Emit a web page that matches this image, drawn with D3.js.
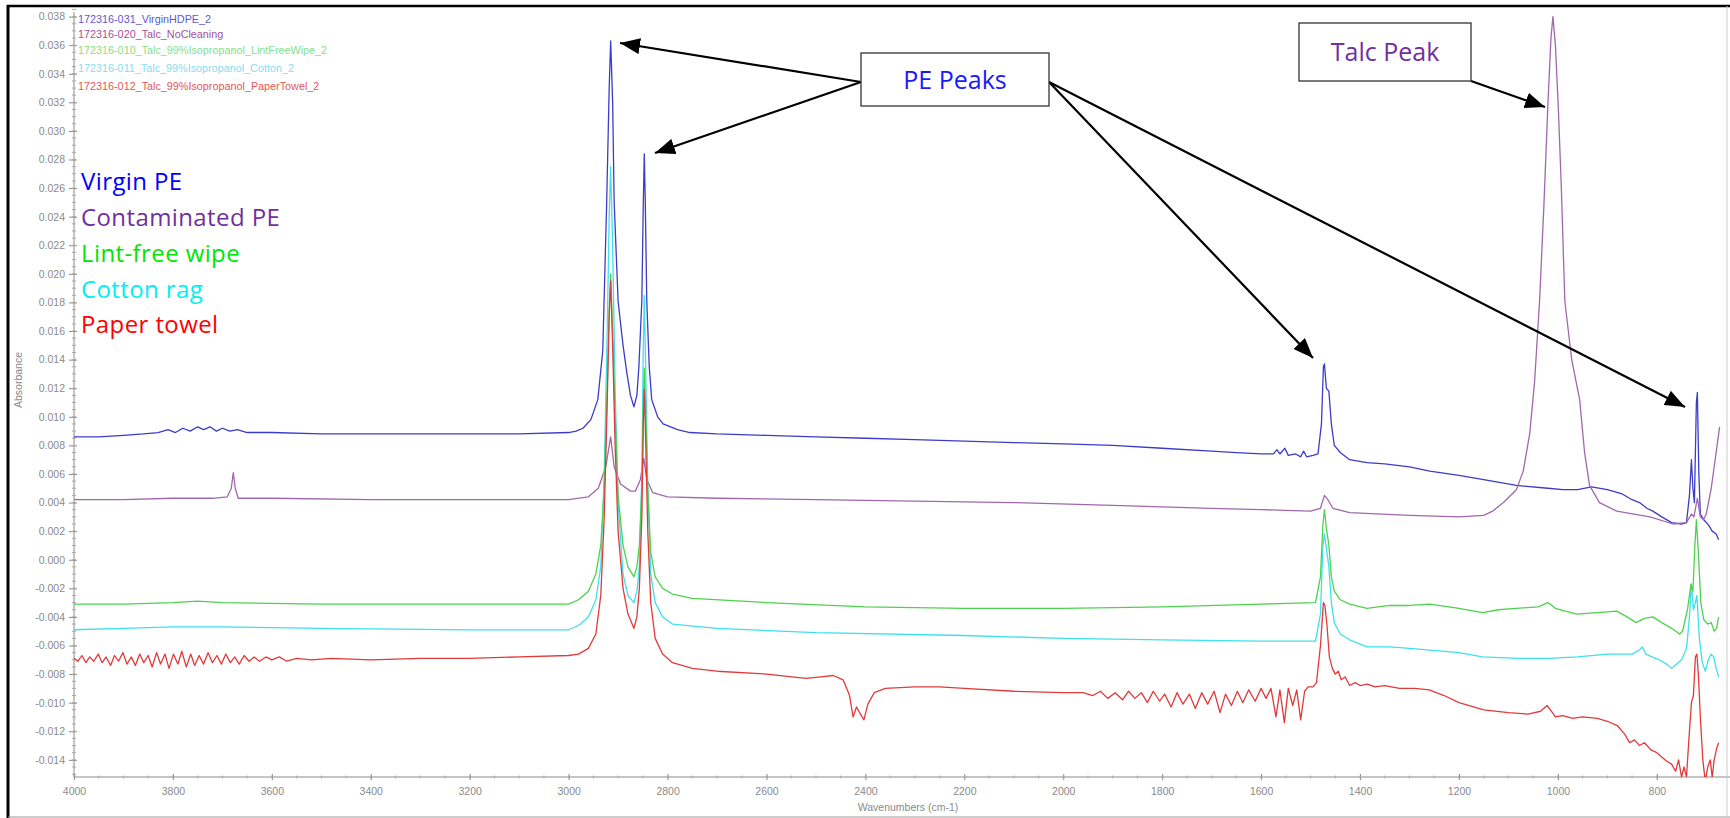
<!DOCTYPE html>
<html>
<head>
<meta charset="utf-8">
<script src="https://cdn.jsdelivr.net/npm/d3@7"></script>
<style>
  html, body { margin: 0; padding: 0; background: #fff; }
  svg { display: block; }
</style>
</head>
<body>
<svg id="chart" width="1730" height="818"></svg>
<script>
// ---------------- DATA ----------------
const xTickValues = [4000, 3800, 3600, 3400, 3200, 3000, 2800, 2600, 2400, 2200, 2000, 1800, 1600, 1400, 1200, 1000, 800];
const yTickValues = [-0.014, -0.012, -0.010, -0.008, -0.006, -0.004, -0.002, 0.000, 0.002, 0.004, 0.006, 0.008, 0.010, 0.012, 0.014, 0.016, 0.018, 0.020, 0.022, 0.024, 0.026, 0.028, 0.030, 0.032, 0.034, 0.036, 0.038];

const fileLabels = [
  "172316-031_VirginHDPE_2",
  "172316-020_Talc_NoCleaning",
  "172316-010_Talc_99%Isopropanol_LintFreeWipe_2",
  "172316-011_Talc_99%Isopropanol_Cotton_2",
  "172316-012_Talc_99%Isopropanol_PaperTowel_2"
];
const seriesNames = ["Virgin PE", "Contaminated PE", "Lint-free wipe", "Cotton rag", "Paper towel"];

// [wavenumber cm-1, absorbance]
const virginPE = [
  [4000,0.0086],[3950,0.0086],[3900,0.0087],[3860,0.0088],[3830,0.0089],[3810,0.0091],[3795,0.0089],[3780,0.0092],
  [3765,0.0090],[3750,0.0093],[3738,0.0091],[3725,0.0093],[3712,0.0090],[3700,0.0092],[3685,0.0090],[3670,0.0091],
  [3650,0.0089],[3600,0.0089],[3500,0.0088],[3400,0.0088],[3300,0.0088],[3200,0.0088],[3100,0.0088],[3000,0.0089],
  [2985,0.0090],[2971,0.0092],[2955,0.0098],[2941,0.0112],[2931,0.0146],[2923,0.0251],[2918,0.0330],[2915,0.0363],
  [2911,0.0320],[2908,0.0251],[2900,0.0181],[2890,0.0150],[2882,0.0130],[2875,0.0115],[2868,0.0107],[2862,0.0115],
  [2858,0.0135],[2852,0.0181],[2849,0.0250],[2847,0.0284],[2845,0.0250],[2842,0.0181],[2837,0.0135],[2832,0.0112],
  [2820,0.0100],[2809,0.0095],[2780,0.0091],[2755,0.0089],[2700,0.0088],[2600,0.0087],[2500,0.0086],[2400,0.0085],
  [2300,0.0084],[2200,0.0083],[2100,0.0082],[2000,0.0081],[1900,0.0080],[1800,0.0078],[1700,0.0076],[1650,0.0075],
  [1600,0.0074],[1575,0.0074],[1568,0.0077],[1562,0.0074],[1552,0.0078],[1545,0.0073],[1530,0.0074],[1520,0.0072],
  [1514,0.0076],[1508,0.0072],[1495,0.0073],[1485,0.0074],[1478,0.0095],[1474,0.0135],[1472,0.0137],[1468,0.0120],
  [1463,0.0118],[1458,0.0095],[1452,0.0080],[1440,0.0075],[1421,0.0070],[1386,0.0068],[1350,0.0067],[1300,0.0065],
  [1259,0.0062],[1200,0.0059],[1150,0.0056],[1084,0.0052],[1020,0.0050],[990,0.0049],[960,0.0049],[932,0.0051],
  [900,0.0049],[870,0.0046],[850,0.0042],[835,0.0040],[820,0.0036],[808,0.0034],[790,0.0030],[770,0.0026],
  [750,0.0025],[740,0.0026],[734,0.0045],[730,0.0070],[727,0.0050],[724,0.0040],[720,0.0110],[718,0.0117],
  [715,0.0060],[712,0.0032],[705,0.0028],[695,0.0024],[688,0.0020],[680,0.0018],[675,0.0014]
];

const contaminatedPE = [
  [4000,0.0042],[3900,0.0042],[3800,0.0043],[3720,0.0043],[3690,0.0044],[3682,0.0050],[3678,0.0061],[3674,0.0050],
  [3668,0.0043],[3600,0.0043],[3400,0.0042],[3200,0.0042],[3000,0.0042],[2960,0.0044],[2940,0.0050],[2925,0.0065],
  [2915,0.0086],[2908,0.0065],[2895,0.0053],[2875,0.0048],[2865,0.0048],[2855,0.0056],[2848,0.0071],[2842,0.0056],
  [2830,0.0047],[2800,0.0044],[2700,0.0043],[2500,0.0042],[2300,0.0041],[2100,0.0040],[1900,0.0038],[1700,0.0036],
  [1600,0.0035],[1500,0.0034],[1480,0.0036],[1472,0.0045],[1465,0.0042],[1455,0.0036],[1421,0.0033],[1300,0.0031],
  [1200,0.0030],[1150,0.0031],[1132,0.0034],[1110,0.0040],[1084,0.0049],[1070,0.0062],[1057,0.0088],[1047,0.0125],
  [1037,0.0181],[1028,0.0250],[1020,0.0320],[1014,0.0365],[1010,0.0380],[1005,0.0360],[999,0.0315],[993,0.0260],
  [986,0.0181],[972,0.0140],[956,0.0112],[946,0.0075],[936,0.0052],[916,0.0040],[881,0.0034],[814,0.0030],
  [767,0.0025],[740,0.0026],[730,0.0032],[725,0.0030],[718,0.0043],[712,0.0030],[706,0.0028],[700,0.0032],
  [690,0.0050],[680,0.0075],[673,0.0093]
];

const lintFreeWipe = [
  [4000,-0.0031],[3900,-0.0031],[3800,-0.0030],[3750,-0.0029],[3700,-0.0030],[3500,-0.0031],[3200,-0.0031],[3000,-0.0031],
  [2980,-0.0028],[2960,-0.0022],[2945,-0.0010],[2935,0.0010],[2928,0.0050],[2922,0.0120],[2918,0.0175],[2915,0.0200],
  [2911,0.0160],[2906,0.0100],[2900,0.0045],[2890,0.0010],[2880,-0.0005],[2868,-0.0012],[2862,-0.0005],[2857,0.0010],
  [2852,0.0050],[2849,0.0110],[2847,0.0134],[2844,0.0100],[2840,0.0050],[2834,0.0005],[2825,-0.0012],[2810,-0.0020],
  [2790,-0.0024],[2750,-0.0027],[2600,-0.0030],[2400,-0.0033],[2200,-0.0034],[2000,-0.0034],[1800,-0.0033],[1600,-0.0031],
  [1490,-0.0030],[1480,-0.0012],[1475,0.0025],[1472,0.0035],[1468,0.0022],[1463,0.0010],[1458,-0.0012],[1452,-0.0022],
  [1440,-0.0028],[1421,-0.0031],[1386,-0.0034],[1340,-0.0032],[1300,-0.0032],[1259,-0.0031],[1200,-0.0034],[1152,-0.0037],
  [1120,-0.0035],[1084,-0.0034],[1040,-0.0033],[1020,-0.0030],[1005,-0.0034],[985,-0.0036],[962,-0.0038],[920,-0.0037],
  [881,-0.0036],[860,-0.0040],[842,-0.0044],[825,-0.0041],[808,-0.0040],[790,-0.0044],[770,-0.0048],[754,-0.0052],
  [748,-0.0050],[738,-0.0035],[731,-0.0017],[727,-0.0022],[723,0.0010],[720,0.0028],[716,0.0005],[711,-0.0030],
  [705,-0.0042],[697,-0.0045],[690,-0.0044],[684,-0.0050],[679,-0.0048],[675,-0.0040]
];

const cottonRag = [
  [4000,-0.0049],[3900,-0.0048],[3800,-0.0047],[3700,-0.0047],[3500,-0.0048],[3200,-0.0049],[3000,-0.0049],
  [2980,-0.0046],[2960,-0.0040],[2945,-0.0028],[2935,-0.0005],[2928,0.0060],[2922,0.0160],[2918,0.0240],[2915,0.0275],
  [2911,0.0220],[2906,0.0120],[2900,0.0040],[2890,-0.0010],[2880,-0.0025],[2868,-0.0030],[2862,-0.0022],[2857,-0.0005],
  [2852,0.0060],[2849,0.0150],[2847,0.0185],[2844,0.0130],[2840,0.0050],[2834,-0.0010],[2825,-0.0030],[2810,-0.0040],
  [2790,-0.0045],[2700,-0.0048],[2500,-0.0051],[2200,-0.0053],[2000,-0.0055],[1800,-0.0056],[1600,-0.0057],[1490,-0.0057],
  [1480,-0.0038],[1475,0.0010],[1472,0.0018],[1468,0.0008],[1463,-0.0005],[1458,-0.0030],[1452,-0.0044],[1440,-0.0052],
  [1421,-0.0056],[1386,-0.0061],[1340,-0.0061],[1300,-0.0062],[1200,-0.0065],[1152,-0.0068],[1080,-0.0069],[1020,-0.0069],
  [960,-0.0068],[900,-0.0066],[850,-0.0066],[835,-0.0063],[829,-0.0061],[822,-0.0066],[810,-0.0068],[795,-0.0070],
  [780,-0.0073],[770,-0.0076],[760,-0.0073],[750,-0.0070],[740,-0.0062],[734,-0.0040],[730,-0.0017],[726,-0.0035],
  [722,-0.0030],[719,-0.0025],[714,-0.0055],[708,-0.0072],[702,-0.0078],[696,-0.0070],[690,-0.0066],[685,-0.0068],
  [680,-0.0076],[675,-0.0082]
];

const paperTowel = [
  [4000,-0.0069],[3992,-0.0071],[3984,-0.0067],[3976,-0.0072],[3968,-0.0068],[3960,-0.0071],[3951,-0.0066],[3943,-0.0072],
  [3935,-0.0068],[3926,-0.0074],[3918,-0.0067],[3910,-0.0071],[3901,-0.0065],[3893,-0.0073],[3884,-0.0068],[3876,-0.0074],
  [3867,-0.0066],[3859,-0.0072],[3850,-0.0067],[3842,-0.0075],[3833,-0.0065],[3825,-0.0073],[3816,-0.0066],[3808,-0.0076],
  [3799,-0.0066],[3790,-0.0073],[3782,-0.0064],[3773,-0.0075],[3764,-0.0066],[3756,-0.0074],[3747,-0.0067],[3738,-0.0073],
  [3729,-0.0065],[3720,-0.0072],[3711,-0.0067],[3702,-0.0073],[3693,-0.0066],[3684,-0.0072],[3675,-0.0068],[3666,-0.0073],
  [3656,-0.0067],[3646,-0.0071],[3636,-0.0068],[3625,-0.0071],[3612,-0.0068],[3600,-0.0070],[3585,-0.0068],[3570,-0.0071],
  [3550,-0.0069],[3520,-0.0070],[3480,-0.0069],[3400,-0.0070],[3300,-0.0069],[3200,-0.0069],[3100,-0.0068],[3000,-0.0067],
  [2980,-0.0066],[2960,-0.0062],[2945,-0.0052],[2935,-0.0025],[2928,0.0030],[2922,0.0110],[2918,0.0170],[2915,0.0195],
  [2911,0.0150],[2906,0.0080],[2900,0.0020],[2890,-0.0020],[2880,-0.0038],[2868,-0.0048],[2862,-0.0040],[2857,-0.0020],
  [2852,0.0030],[2849,0.0095],[2847,0.0119],[2844,0.0080],[2840,0.0020],[2834,-0.0030],[2825,-0.0055],[2810,-0.0066],
  [2790,-0.0072],[2750,-0.0076],[2700,-0.0078],[2600,-0.0080],[2520,-0.0083],[2490,-0.0082],[2465,-0.0081],[2445,-0.0084],
  [2432,-0.0095],[2425,-0.0110],[2418,-0.0103],[2410,-0.0108],[2403,-0.0112],[2395,-0.0101],[2382,-0.0093],[2360,-0.0090],
  [2300,-0.0089],[2250,-0.0089],[2200,-0.0090],[2100,-0.0092],[2000,-0.0093],[1960,-0.0093],[1940,-0.0095],[1925,-0.0092],
  [1910,-0.0097],[1895,-0.0093],[1880,-0.0098],[1868,-0.0092],[1855,-0.0097],[1842,-0.0093],[1830,-0.0100],[1818,-0.0092],
  [1805,-0.0099],[1795,-0.0094],[1782,-0.0103],[1770,-0.0093],[1758,-0.0101],[1745,-0.0094],[1733,-0.0104],[1720,-0.0093],
  [1708,-0.0101],[1695,-0.0092],[1683,-0.0107],[1672,-0.0094],[1660,-0.0102],[1648,-0.0092],[1637,-0.0100],[1625,-0.0091],
  [1612,-0.0099],[1600,-0.0090],[1590,-0.0097],[1580,-0.0090],[1570,-0.0110],[1562,-0.0091],[1553,-0.0114],[1545,-0.0090],
  [1536,-0.0102],[1528,-0.0091],[1520,-0.0112],[1512,-0.0092],[1505,-0.0089],[1495,-0.0089],[1488,-0.0086],[1480,-0.0060],
  [1474,-0.0030],[1471,-0.0032],[1467,-0.0045],[1462,-0.0068],[1456,-0.0076],[1450,-0.0080],[1444,-0.0078],[1438,-0.0084],
  [1430,-0.0082],[1421,-0.0088],[1410,-0.0086],[1400,-0.0088],[1385,-0.0087],[1370,-0.0089],[1350,-0.0088],[1320,-0.0090],
  [1290,-0.0090],[1260,-0.0091],[1230,-0.0095],[1200,-0.0100],[1150,-0.0105],[1100,-0.0107],[1060,-0.0108],[1035,-0.0106],
  [1022,-0.0102],[1015,-0.0105],[1005,-0.0110],[990,-0.0109],[970,-0.0111],[950,-0.0110],[920,-0.0111],[900,-0.0113],
  [880,-0.0116],[865,-0.0122],[855,-0.0128],[845,-0.0126],[835,-0.0130],[825,-0.0128],[812,-0.0133],[800,-0.0135],
  [790,-0.0138],[780,-0.0141],[770,-0.0143],[762,-0.0148],[756,-0.0140],[750,-0.0152],[745,-0.0145],[740,-0.0152],
  [735,-0.0125],[730,-0.0100],[726,-0.0095],[722,-0.0068],[719,-0.0066],[716,-0.0080],[712,-0.0110],[707,-0.0140],
  [702,-0.0155],[697,-0.0145],[692,-0.0140],[688,-0.0152],[684,-0.0140],[679,-0.0132],[675,-0.0128]
];

// ---------------- STYLE ----------------
const lineColors   = ["#3c3cc8", "#a068ac", "#4ed24e", "#3ee0ee", "#e23a3a"];
const fileColors   = ["#5a5ad2", "#a4509e", "#86e086", "#86dcf0", "#e25858"];
const nameColors   = ["#0000ff", "#7030a0", "#00e600", "#00f0f0", "#ff0000"];
const seriesData   = [virginPE, contaminatedPE, lintFreeWipe, cottonRag, paperTowel];

const svg = d3.select("#chart");
const W = 1730, H = 818;
const plotL = 74, plotR = 1731, plotT = 8, plotB = 777;

const x = d3.scaleLinear().domain([4000, 650]).range([plotL, plotR]);
const y = d3.scaleLinear().domain([-0.0152, 0.0386]).range([plotB, plotT]);

svg.append("rect").attr("width", W).attr("height", H).attr("fill", "#fff");

const smallFont = "'Liberation Sans', Arial, sans-serif";
const bigFont = "'Open Sans', Lato, sans-serif";
const axisGray = "#8a8a8a";

// ---- y axis ----
const yAxisG = svg.append("g").attr("transform", `translate(${plotL},0)`);
const yAxis = d3.axisLeft(y).tickValues(yTickValues).tickSize(5).tickPadding(4)
  .tickFormat(v => (Math.abs(v) < 1e-9 ? 0 : v).toFixed(3));
yAxisG.call(yAxis);
yAxisG.select(".domain").attr("stroke", axisGray).attr("stroke-width", 1).attr("d", `M0,${plotT + 4}V${plotB}`);
yAxisG.selectAll(".tick line").attr("stroke", axisGray).attr("x2", -5).attr("x1", 3);
yAxisG.selectAll(".tick text").attr("fill", axisGray).style("font-family", smallFont).style("font-size", "10.5px");
const yMinor = d3.range(-30, 78).map(i => i * 0.0005).filter(v => v >= -0.0152 && v <= 0.0386);
yAxisG.selectAll(".minor").data(yMinor).join("line")
  .attr("class", "minor").attr("x1", -2).attr("x2", 2)
  .attr("y1", d => y(d)).attr("y2", d => y(d))
  .attr("stroke", "#aaa").attr("stroke-width", 1);

// ---- x axis ----
const xAxisG = svg.append("g").attr("transform", `translate(0,${plotB})`);
const xAxis = d3.axisBottom(x).tickValues(xTickValues).tickSize(4).tickPadding(7).tickFormat(d3.format("d"));
xAxisG.call(xAxis);
xAxisG.select(".domain").attr("stroke", axisGray).attr("d", `M${plotL},0H${W}`);
xAxisG.selectAll(".tick line").attr("stroke", axisGray).attr("y1", -3).attr("y2", 3);
xAxisG.selectAll(".tick text").attr("fill", axisGray).style("font-family", smallFont).style("font-size", "10.5px");
const xMinor = d3.range(650, 4001, 50);
xAxisG.selectAll(".minor").data(xMinor).join("line")
  .attr("class", "minor").attr("x1", d => x(d)).attr("x2", d => x(d))
  .attr("y1", -1.5).attr("y2", 1.5).attr("stroke", "#aaa");

svg.append("text").attr("x", 908).attr("y", 811).attr("text-anchor", "middle")
  .attr("fill", axisGray).style("font-family", smallFont).style("font-size", "10.5px")
  .text("Wavenumbers (cm-1)");
svg.append("text").attr("transform", "translate(22,380) rotate(-90)").attr("text-anchor", "middle")
  .attr("fill", axisGray).style("font-family", smallFont).style("font-size", "10.5px")
  .text("Absorbance");

// ---- series ----
const line = d3.line().x(d => x(d[0])).y(d => y(d[1]));
svg.append("clipPath").attr("id", "clip").append("rect")
  .attr("x", plotL).attr("y", plotT).attr("width", W - plotL).attr("height", plotB - plotT);
const seriesG = svg.append("g").attr("clip-path", "url(#clip)");
const drawOrder = [0, 1, 3, 2, 4];
drawOrder.forEach(i => {
  seriesG.append("path").datum(seriesData[i])
    .attr("fill", "none").attr("stroke", lineColors[i]).attr("stroke-width", 1.3)
    .attr("stroke-linejoin", "round").attr("d", line);
});

// ---- file legend (small) ----
const fileY = [19, 34, 50, 68, 86];
svg.append("g").selectAll("text").data(fileLabels).join("text")
  .attr("x", 78).attr("y", (d, i) => fileY[i] + 3.5)
  .attr("fill", (d, i) => fileColors[i])
  .style("font-family", smallFont).style("font-size", "10.8px")
  .text(d => d);

// ---- big legend ----
const nameY = [190, 226, 262, 298, 333];
svg.append("g").selectAll("text").data(seriesNames).join("text")
  .attr("x", 81).attr("y", (d, i) => nameY[i])
  .attr("fill", (d, i) => nameColors[i])
  .style("font-family", bigFont).style("font-size", "24px").style("letter-spacing", "0.4px")
  .text(d => d);

// ---- annotations ----
const defs = svg.append("defs");
defs.append("marker").attr("id", "arrow").attr("markerUnits", "userSpaceOnUse")
  .attr("viewBox", "0 0 20 16").attr("refX", 20).attr("refY", 8)
  .attr("markerWidth", 20).attr("markerHeight", 16).attr("orient", "auto")
  .append("path").attr("d", "M0,0L20,8L0,16Z").attr("fill", "#000");

const arrows = [
  [861, 82, 620, 43],
  [861, 82, 655, 153],
  [1049, 82, 1313, 358],
  [1049, 82, 1685, 407],
  [1471, 81, 1545, 107]
];
svg.append("g").selectAll("line").data(arrows).join("line")
  .attr("x1", d => d[0]).attr("y1", d => d[1]).attr("x2", d => d[2]).attr("y2", d => d[3])
  .attr("stroke", "#000").attr("stroke-width", 2.2).attr("marker-end", "url(#arrow)");

const boxes = [
  { x: 861, y: 53, w: 188, h: 53, text: "PE Peaks", color: "#1a1aff" },
  { x: 1299, y: 23, w: 172, h: 58, text: "Talc Peak", color: "#7030a0" }
];
boxes.forEach(b => {
  svg.append("rect").attr("x", b.x).attr("y", b.y).attr("width", b.w).attr("height", b.h)
    .attr("fill", "#fff").attr("stroke", "#333").attr("stroke-width", 1.3);
  svg.append("text").attr("x", b.x + b.w / 2).attr("y", b.y + b.h / 2 + 9)
    .attr("text-anchor", "middle").attr("fill", b.color)
    .style("font-family", bigFont).style("font-size", "25px")
    .text(b.text);
});

// ---- outer frame ----
svg.append("line").attr("x1", 8).attr("x2", 8).attr("y1", 5).attr("y2", H).attr("stroke", "#000").attr("stroke-width", 3);
svg.append("line").attr("x1", 7).attr("x2", W).attr("y1", 6).attr("y2", 6).attr("stroke", "#000").attr("stroke-width", 2.5);
svg.append("line").attr("x1", 8).attr("x2", W).attr("y1", 817).attr("y2", 817).attr("stroke", "#999").attr("stroke-width", 1);
svg.append("line").attr("x1", 1727).attr("x2", 1727).attr("y1", 6).attr("y2", H).attr("stroke", "#ccc").attr("stroke-width", 1);
</script>
</body>
</html>
